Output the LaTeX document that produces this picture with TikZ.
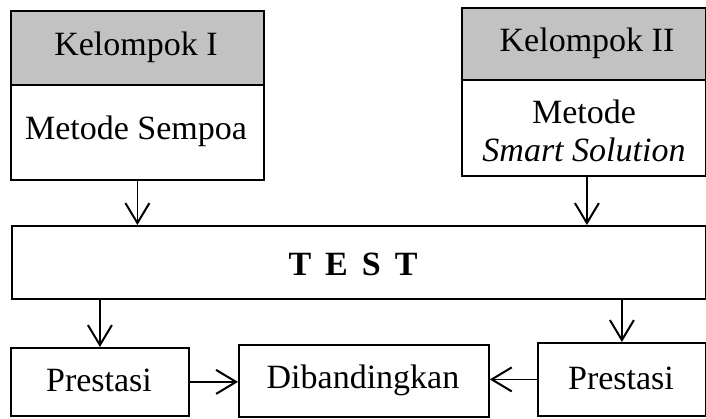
\documentclass[tikz,border=0pt]{standalone}
\usepackage{fontspec}
\setmainfont{Liberation Serif}
\usetikzlibrary{arrows.meta}
\definecolor{bandgray}{gray}{0.76}
\begin{document}
\begin{tikzpicture}[x=1pt,y=-1pt,
  box/.style={draw=black, line width=1.8pt, inner sep=0pt, anchor=north west},
  lbl/.style={font=\fontsize{34}{40}\selectfont, inner sep=0pt},
  arr/.style={line width=1.5pt, -{Straight Barb[length=20pt,width=24pt,line width=2pt]}}
]
\useasboundingbox (0,0) rectangle (706,419);
% group I
\node[box, fill=bandgray, minimum width=253pt, minimum height=74pt] (h1) at (10,10) {};
\node[box, minimum width=253pt, minimum height=95pt] (m1) at (10,84) {};
% group II
\node[box, fill=bandgray, minimum width=244pt, minimum height=72pt] (h2) at (461,7) {};
\node[box, minimum width=244pt, minimum height=96pt] (m2) at (461,79) {};
% test
\node[box, minimum width=694pt, minimum height=73pt] (test) at (11,225) {};
% bottom row
\node[box, minimum width=178pt, minimum height=68pt] (p1) at (10,347) {};
\node[box, minimum width=250pt, minimum height=72pt] (d) at (238,344) {};
\node[box, minimum width=168pt, minimum height=73pt] (p2) at (537,342) {};
% texts
\node[lbl] (t1) at (136,47) {Kelompok I};
\node[lbl] (t2) at (136,131) {Metode Sempoa};
\node[lbl] (t3) at (587,43) {Kelompok II};
\node[lbl] (t4) at (584,112) {Metode};
\node[lbl] (t5) at (584,150) {\itshape Smart Solution};
\node[lbl, font=\fontsize{34}{40}\selectfont\bfseries] (t6) at (353,264) {T\hspace{14pt}E\hspace{14pt}S\hspace{14pt}T};
\node[lbl] (t7) at (99,380) {Prestasi};
\node[lbl] (t8) at (363,380) {Dibandingkan};
\node[lbl] (t9) at (621,378) {Prestasi};
% connectors
\draw[arr] (m1.south) -- (m1.south |- test.north);
\draw[arr] ([xshift=3pt]m2.south) -- ([xshift=3pt]m2.south |- test.north);
\draw[arr] (test.south -| p1.north) -- (p1.north);
\draw[arr] (test.south -| p2.north) -- (p2.north);
\draw[arr] (p1.east) -- (p1.east -| d.west);
\draw[arr] (p2.west) -- (p2.west -| d.east);
\end{tikzpicture}
\end{document}
